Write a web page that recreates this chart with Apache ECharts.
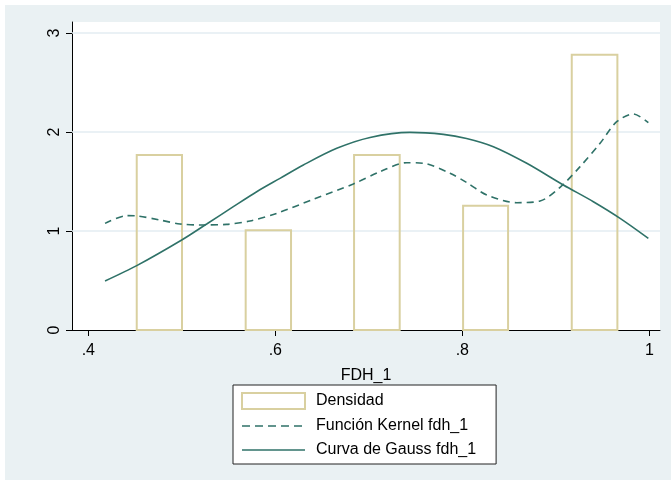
<!DOCTYPE html>
<html>
<head>
<meta charset="utf-8">
<script src="https://cdn.jsdelivr.net/npm/echarts@6/dist/echarts.min.js"></script>
<style>
html,body{margin:0;padding:0;background:#fff;}
#chart{width:671px;height:485px;}
</style>
</head>
<body>
<div id="chart"></div>
<script>
// Histogram bins (bar left/right edges) and density heights
const binStart = [0.4518, 0.5683, 0.6842, 0.8008, 0.9170];
const binEnd   = [0.5002, 0.6168, 0.7330, 0.8489, 0.9658];
const density  = [1.768, 1.007, 1.768, 1.256, 2.781];

// Kernel density curve
const kernelX = [0.4179, 0.4411, 0.4518, 0.4767, 0.4981, 0.5195, 0.548, 0.5729, 0.6015, 0.6406, 0.6834, 0.712, 0.7405, 0.7583, 0.7868, 0.8045, 0.8261, 0.8582, 0.8831, 0.9045, 0.9259, 0.9473, 0.9651, 0.9829, 0.9989];
const kernelY = [1.077, 1.155, 1.152, 1.111, 1.071, 1.061, 1.067, 1.101, 1.178, 1.320, 1.475, 1.599, 1.690, 1.684, 1.583, 1.490, 1.364, 1.286, 1.303, 1.441, 1.650, 1.886, 2.104, 2.182, 2.094];

// Normal (Gauss) curve
const gaussX = [0.4179, 0.4518, 0.4999, 0.5266, 0.5551, 0.5801, 0.605, 0.63, 0.6657, 0.7013, 0.744, 0.7797, 0.8045, 0.8332, 0.8689, 0.908, 0.9401, 0.9687, 0.9989];
const gaussY = [0.495, 0.650, 0.909, 1.071, 1.246, 1.397, 1.532, 1.667, 1.835, 1.945, 1.996, 1.976, 1.935, 1.852, 1.684, 1.465, 1.296, 1.128, 0.926];

const xTicks = [0.4, 0.6, 0.8, 1.0];
const xTickLabels = ['.4', '.6', '.8', '1'];
const yTicks = [0, 1, 2, 3];
const yGrid = [1, 2, 3];

const seriesNames = ['Densidad', 'Función Kernel fdh_1', 'Curva de Gauss fdh_1'];

const lineColor = '#2F7268';
const barColor = '#D9D0A0';
const font = 'Liberation Sans, Arial, sans-serif';

const histData = binStart.map((s, i) => [s, binEnd[i], density[i]]);
const kernelData = kernelX.map((x, i) => [x, kernelY[i]]);
const gaussData = gaussX.map((x, i) => [x, gaussY[i]]);

const chart = echarts.init(document.getElementById('chart'), null, {renderer: 'canvas'});
chart.setOption({
  backgroundColor: '#ffffff',
  animation: false,
  graphic: [{
    type: 'rect', z: -10, silent: true,
    shape: {x: 5, y: 5, width: 666, height: 475},
    style: {fill: '#EAF1F3'}
  }, {
    type: 'rect', z: -9, silent: true,
    shape: {x: 72, y: 22, width: 588, height: 308},
    style: {fill: '#ffffff'}
  }],
  grid: {left: 72, top: 22, right: 11, bottom: 155, containLabel: false},
  xAxis: {
    type: 'value', min: 0.38257, max: 1.01137,
    name: 'FDH_1', nameLocation: 'middle', nameGap: 38,
    nameTextStyle: {fontFamily: font, fontSize: 16, color: '#000'},
    axisLine: {show: true, onZero: false, lineStyle: {color: '#000', width: 1}},
    axisTick: {show: true, length: 6, customValues: xTicks, lineStyle: {color: '#000'}},
    axisLabel: {
      customValues: xTicks, margin: 13, fontFamily: font, fontSize: 16, color: '#000',
      formatter: v => { const i = xTicks.findIndex(t => Math.abs(t - v) < 1e-6); return i >= 0 ? xTickLabels[i] : ''; }
    },
    splitLine: {show: false}
  },
  yAxis: {
    type: 'value', min: 0, max: 3.111,
    axisLine: {show: true, onZero: false, lineStyle: {color: '#000', width: 1}},
    axisTick: {show: true, length: 6, customValues: yTicks, lineStyle: {color: '#000'}},
    axisLabel: {customValues: yTicks, rotate: 90, margin: 9, fontFamily: font, fontSize: 16, color: '#000'},
    splitLine: {show: false}
  },
  legend: {
    orient: 'vertical', left: 233, top: 385,
    padding: [7, 20, 6, 8], itemGap: 8,
    itemWidth: 63, itemHeight: 16,
    backgroundColor: '#ffffff', borderColor: '#222', borderWidth: 1,
    textStyle: {fontFamily: font, fontSize: 16, color: '#000', padding: [0, 0, 0, 6]},
    data: [
      {name: seriesNames[0], icon: 'rect', itemStyle: {color: '#ffffff', borderColor: barColor, borderWidth: 2}},
      {name: seriesNames[1], itemStyle: {opacity: 0}, lineStyle: {type: [8, 5], width: 1.6}},
      {name: seriesNames[2], itemStyle: {opacity: 0}, lineStyle: {width: 1.6}}
    ]
  },
  series: [{
    name: seriesNames[0], type: 'custom',
    itemStyle: {color: '#ffffff', borderColor: barColor, borderWidth: 2},
    renderItem: (params, api) => {
      const p0 = api.coord([api.value(0), api.value(2)]);
      const p1 = api.coord([api.value(1), 0]);
      return {
        type: 'rect',
        shape: {x: p0[0], y: p0[1], width: p1[0] - p0[0], height: p1[1] - p0[1]},
        style: {fill: 'rgba(255,255,255,0)', stroke: barColor, lineWidth: 2}
      };
    },
    encode: {x: [0, 1], y: 2},
    data: histData,
    z: 2
  }, {
    name: seriesNames[1], type: 'line', smooth: 0.3, symbol: 'none',
    lineStyle: {color: lineColor, width: 1.6, type: [7, 5]},
    itemStyle: {color: lineColor},
    data: kernelData, z: 3
  }, {
    name: seriesNames[2], type: 'line', smooth: 0.3, symbol: 'none',
    lineStyle: {color: lineColor, width: 1.6},
    itemStyle: {color: lineColor},
    data: gaussData, z: 3,
    markLine: {
      silent: true, symbol: 'none', label: {show: false},
      lineStyle: {color: '#E3EDF2', width: 1.5, type: 'solid'},
      data: yGrid.map(v => ({yAxis: v})),
      z: 1
    }
  }]
});
</script>
</body>
</html>
